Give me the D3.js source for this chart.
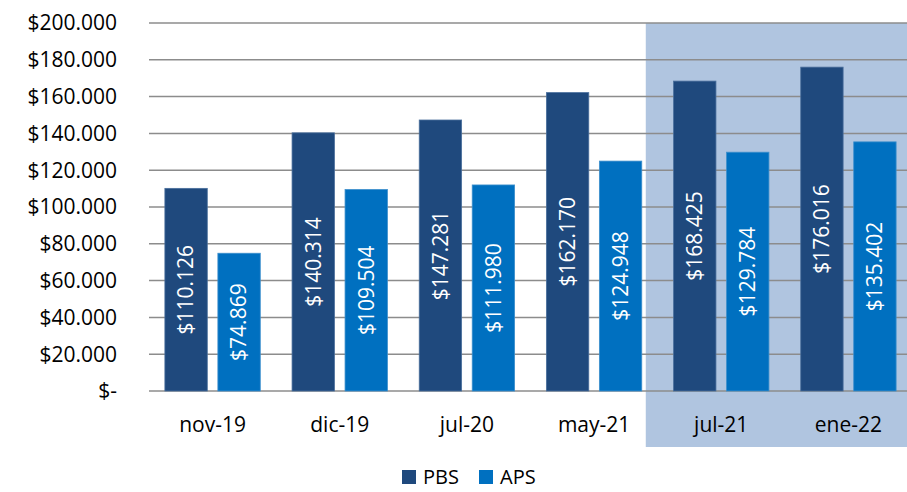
<!DOCTYPE html>
<meta charset="utf-8">
<style>
    body { margin: 0; background: #fff; }
    text { font-family: "Open Sans", sans-serif; }
    svg { display: block; }
</style>
<body>
<script src="https://cdn.jsdelivr.net/npm/d3@7"></script>
<script>
// data
var categories = ["nov-19", "dic-19", "jul-20", "may-21", "jul-21", "ene-22"];
var series = ["PBS", "APS"];
var pbsValues = [110126, 140314, 147281, 162170, 168425, 176016];
var apsValues = [74869, 109504, 111980, 124948, 129784, 135402];
var yTicks = [0, 20000, 40000, 60000, 80000, 100000, 120000, 140000, 160000, 180000, 200000];

var colors = {PBS: "#1f497d", APS: "#0070c0"};
var strokes = {PBS: "#4a6f9c", APS: "#3d8fcc"};

var width = 907, height = 492;
var margin = {top: 23, right: -5, bottom: 101, left: 149};

var svg = d3.select("body").append("svg")
    .attr("width", width)
    .attr("height", height);

var x0 = d3.scaleBand()
    .domain(categories)
    .range([margin.left, width - margin.right])
    .paddingInner(0.25)
    .paddingOuter(0.125);

var x1 = d3.scaleBand()
    .domain(series)
    .range([0, x0.bandwidth()])
    .paddingInner(0.2);

var y = d3.scaleLinear()
    .domain([0, 200000])
    .range([height - margin.bottom, margin.top]);

var loc = d3.formatLocale({decimal: ",", thousands: ".", grouping: [3], currency: ["$", ""]});
var fmt = loc.format("$,");
function tickFmt(v) { return v === 0 ? "$-" : fmt(v); }

// highlighted period background
var hx = x0("may-21") + x1("APS") + x1.bandwidth() + 4;
svg.append("rect")
    .attr("x", hx)
    .attr("y", y(200000))
    .attr("width", width - hx)
    .attr("height", 447 - y(200000))
    .attr("fill", "#b0c5e0");

// gridlines
svg.append("g").selectAll("line")
    .data(yTicks)
    .enter().append("line")
    .attr("x1", margin.left)
    .attr("x2", width)
    .attr("y1", function(d) { return y(d); })
    .attr("y2", function(d) { return y(d); })
    .attr("stroke", "#8c8c8c")
    .attr("stroke-width", 1.5);

// y axis labels
svg.append("g").selectAll("text")
    .data(yTicks)
    .enter().append("text")
    .attr("x", 117)
    .attr("y", function(d) { return y(d); })
    .attr("dy", "0.35em")
    .attr("text-anchor", "end")
    .style("font-size", "21px")
    .attr("fill", "#000")
    .text(tickFmt);

var rows = categories.map(function(c, i) {
    return {cat: c, values: [{key: "PBS", value: pbsValues[i]}, {key: "APS", value: apsValues[i]}]};
});

var groups = svg.append("g").selectAll("g")
    .data(rows)
    .enter().append("g")
    .attr("transform", function(d) { return "translate(" + x0(d.cat) + ",0)"; });

groups.selectAll("rect")
    .data(function(d) { return d.values; })
    .enter().append("rect")
    .attr("x", function(d) { return x1(d.key); })
    .attr("y", function(d) { return y(d.value); })
    .attr("width", x1.bandwidth())
    .attr("height", function(d) { return y(0) - y(d.value); })
    .attr("fill", function(d) { return colors[d.key]; })
    .attr("stroke", function(d) { return strokes[d.key]; })
    .attr("stroke-width", 0.8);

// value labels, rotated, centred in each bar
groups.selectAll("text")
    .data(function(d) { return d.values; })
    .enter().append("text")
    .attr("transform", function(d) {
        var cx = x1(d.key) + x1.bandwidth() / 2;
        var cy = (y(d.value) + y(0)) / 2;
        return "translate(" + cx + "," + cy + ") rotate(-90)";
    })
    .attr("text-anchor", "middle")
    .attr("dy", "0.35em")
    .attr("fill", "#fff")
    .style("font-size", "21px")
    .text(function(d) { return fmt(d.value); });

// category labels
svg.append("g").selectAll("text")
    .data(categories)
    .enter().append("text")
    .attr("x", function(d) { return x0(d) + x0.bandwidth() / 2; })
    .attr("y", 432)
    .attr("text-anchor", "middle")
    .style("font-size", "21px")
    .attr("fill", "#000")
    .text(function(d) { return d; });

// legend
var legend = svg.append("g").attr("transform", "translate(402,470)");
var legendX = [0, 77];
series.forEach(function(s, i) {
    legend.append("rect")
        .attr("x", legendX[i])
        .attr("y", 0)
        .attr("width", 14)
        .attr("height", 14)
        .attr("fill", colors[s]);
    legend.append("text")
        .attr("x", legendX[i] + 21)
        .attr("y", 14)
        .style("font-size", "20px")
        .attr("fill", "#000")
        .text(s);
});
</script>
</body>
